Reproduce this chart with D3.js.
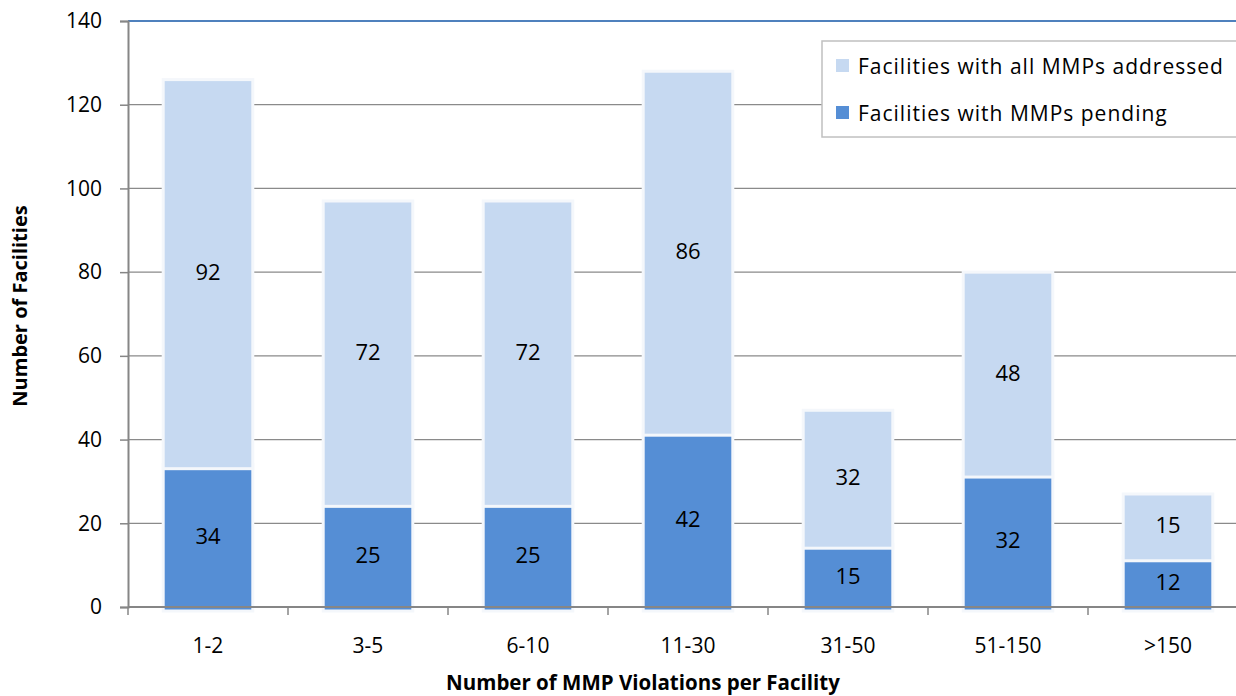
<!DOCTYPE html>
<html>
<head>
<meta charset="utf-8">
<script src="https://cdn.jsdelivr.net/npm/d3@7"></script>
<style>
  body { margin: 0; background: #fff; }
  text { font-family: "Open Sans", "Noto Sans", sans-serif; fill: #000; }
</style>
</head>
<body>
<div class="chart"></div>
<script>
const categories = ['1-2', '3-5', '6-10', '11-30', '31-50', '51-150', '>150'];
const pending = [34, 25, 25, 42, 15, 32, 12];
const addressed = [92, 72, 72, 86, 32, 48, 15];
const yTicks = [0, 20, 40, 60, 80, 100, 120, 140];

const width = 1236, height = 696;
const svg = d3.select('.chart').append('svg')
    .attr('width', width)
    .attr('height', height);

// plot area runs past the right edge, like the original crop
const plotL = 128, plotR = 1248, plotT = 21, plotB = 607;

const x = d3.scaleBand().domain(categories).range([plotL, plotR]).paddingInner(0.44).paddingOuter(0.22);
const y = d3.scaleLinear().domain([0, 140]).range([plotB, plotT]);

const rows = categories.map((c, i) => ({cat: c, pending: pending[i], addressed: addressed[i]}));
const stacked = d3.stack().keys(['pending', 'addressed'])(rows);
const colors = {pending: '#558ed5', addressed: '#c6d9f1'};

// gridlines
svg.selectAll('line.grid')
    .data(yTicks.filter(t => t > 0 && t < 140))
    .enter().append('line')
    .attr('x1', plotL).attr('x2', width)
    .attr('y1', d => y(d)).attr('y2', d => y(d))
    .attr('stroke', '#8a8a8a').attr('stroke-width', 1.3);

// top border line
svg.append('line')
    .attr('x1', plotL).attr('x2', width)
    .attr('y1', y(140)).attr('y2', y(140))
    .attr('stroke', '#4f81bd').attr('stroke-width', 2);

// bars
svg.selectAll('g.layer')
    .data(stacked)
    .enter().append('g')
    .attr('fill', d => colors[d.key])
    .selectAll('rect')
    .data(d => d)
    .enter().append('rect')
    .attr('x', d => x(d.data.cat))
    .attr('width', x.bandwidth())
    .attr('y', d => y(d[1]))
    .attr('height', d => y(d[0]) - y(d[1]) + 4)
    .attr('stroke', '#f4f7fb').attr('stroke-width', 3);

// y axis
const yAxis = d3.axisLeft(y).tickValues(yTicks).tickSize(8).tickPadding(18);
const ya = svg.append('g').attr('transform', `translate(${plotL},0)`).call(yAxis);
ya.select('.domain').attr('stroke', '#868686').attr('stroke-width', 2);
ya.selectAll('.tick line').attr('stroke', '#868686').attr('stroke-width', 1.5);
ya.selectAll('.tick text').attr('font-size', 21).style('font-family', '"Open Sans", sans-serif');

// x axis, drawn over the bar feet
const xAxis = d3.axisBottom(x).tickSize(0).tickPadding(31);
const xa = svg.append('g').attr('transform', `translate(0,${plotB})`).call(xAxis);
xa.select('.domain').remove();
xa.selectAll('.tick text').attr('font-size', 21).style('font-family', '"Open Sans", sans-serif');
xa.append('line').attr('x1', plotL).attr('x2', width).attr('y1', 0).attr('y2', 0)
    .attr('stroke', '#868686').attr('stroke-width', 2);
const step = x.step();
xa.selectAll('line.xt')
    .data(d3.range(categories.length + 1))
    .enter().append('line')
    .attr('x1', i => plotL + i * step).attr('x2', i => plotL + i * step)
    .attr('y1', 0).attr('y2', 8)
    .attr('stroke', '#868686').attr('stroke-width', 1.5);

// value labels
stacked.forEach(layer => {
    svg.selectAll('text.v' + layer.key)
        .data(layer)
        .enter().append('text')
        .attr('x', d => x(d.data.cat) + x.bandwidth() / 2)
        .attr('y', d => (y(d[0]) + y(d[1])) / 2 + 8)
        .attr('text-anchor', 'middle')
        .attr('font-size', 22)
        .text(d => d.data[layer.key]);
});

// axis titles
svg.append('text')
    .attr('transform', `translate(27,306) rotate(-90)`)
    .attr('text-anchor', 'middle')
    .attr('font-size', 20).attr('font-weight', 'bold')
    .text('Number of Facilities');
svg.append('text')
    .attr('x', 643).attr('y', 690)
    .attr('text-anchor', 'middle')
    .attr('font-size', 20.5).attr('font-weight', 'bold')
    .text('Number of MMP Violations per Facility');

// legend
const legend = svg.append('g');
legend.append('rect')
    .attr('x', 822).attr('y', 41).attr('width', 430).attr('height', 96)
    .attr('fill', '#fff').attr('stroke', '#c0c0c0').attr('stroke-width', 1.5);
const legItems = [
    {label: 'Facilities with all MMPs addressed', key: 'addressed'},
    {label: 'Facilities with MMPs pending', key: 'pending'}
];
legItems.forEach((d, i) => {
    legend.append('rect')
        .attr('x', 836).attr('y', 59 + i * 47).attr('width', 13).attr('height', 13)
        .attr('fill', colors[d.key]);
    legend.append('text')
        .attr('x', 858).attr('y', 74 + i * 47)
        .attr('font-size', 21).attr('letter-spacing', 1)
        .text(d.label);
});
</script>
</body>
</html>
